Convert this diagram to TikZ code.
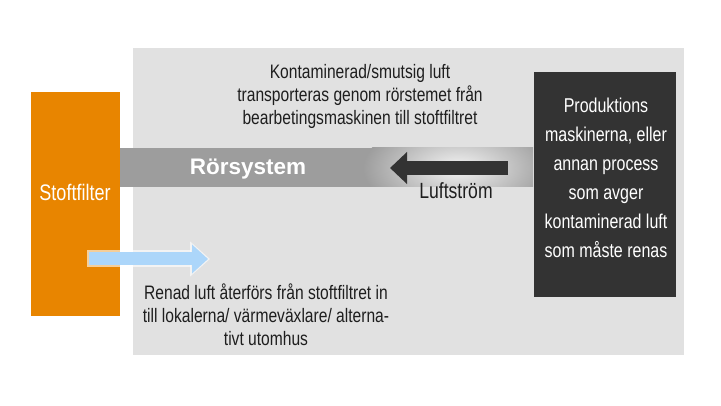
\documentclass[tikz,border=0pt]{standalone}
\usepackage{fontspec}
\setmainfont{Liberation Sans}[FakeStretch=0.8]
\newfontfamily\pipefont{Liberation Sans}
\usetikzlibrary{arrows.meta}
\definecolor{backgray}{RGB}{225,225,225}
\definecolor{filterorange}{RGB}{232,133,0}
\definecolor{pipegray}{RGB}{157,157,157}
\definecolor{sourcedark}{RGB}{51,51,51}
\definecolor{cleanblue}{RGB}{172,214,250}
\definecolor{textdark}{RGB}{30,30,30}
\tikzset{
	note/.style={align=center, text=textdark, font=\fontsize{19.5}{23}\selectfont},
	whitetext/.style={align=center, text=white},
}

\begin{document}
\begin{tikzpicture}[x=1pt, y=-1pt]
		%%%%% START %%%%%
		\useasboundingbox (0, 0) rectangle (721, 406);
		\fill[white] (0, 0) rectangle (721, 406);
		
		\fill[backgray] (133, 48) rectangle (684, 355);
		
		% pipe with the glow round the flow arrow
		\fill[pipegray] (120, 148) rectangle (533, 187);
		\begin{scope}
			\clip (120, 148) rectangle (533, 187);
			\shade[inner color=white!88!pipegray, outer color=pipegray] (458, 168) ellipse (95 and 48);
		\end{scope}
		
		\fill[filterorange] (31, 92) rectangle (120, 316);
		\fill[sourcedark] (534, 72) rectangle (676, 297);
		
		\node[whitetext, font=\fontsize{22.5}{26}\selectfont] (filter) at (75, 192) {Stoftfilter};
		\node[text=white, font=\pipefont\bfseries\fontsize{22.5}{26}\selectfont] (pipe) at (248, 169) {Rörsystem};
		\node[whitetext, font=\fontsize{20}{29}\selectfont] (source) at (606, 178) {Produktions\\maskinerna, eller\\annan process\\som avger\\kontaminerad luft\\som måste renas};
		
		\node[note] (topnote) at (360, 96) {Kontaminerad/smutsig luft\\transporteras genom rörstemet från\\bearbetingsmaskinen till stoftfiltret};
		\node[note] (bottomnote) at (266, 315) {Renad luft återförs från stoftfiltret in\\till lokalerna/ värmeväxlare/ alterna-\\tivt utomhus};
		\node[text=textdark, font=\fontsize{22}{26}\selectfont] (flowlabel) at (456, 191) {Luftström};
		
		% flow arrows
		\coordinate (flow start) at (508, 168);
		\coordinate (flow end) at (390, 168);
		\draw[line width=14pt, sourcedark, -{Triangle[length=17pt, width=31pt]}] (flow start) -- (flow end);
		
		\coordinate (clean start) at (89, 259);
		\coordinate (clean end) at (208, 259);
		\draw[line width=17pt, white, opacity=0.6, -{Triangle[length=20pt, width=34pt]}] ([xshift=-2pt]clean start) -- ([xshift=2pt]clean end);
		\draw[line width=13pt, cleanblue, -{Triangle[length=16pt, width=28pt]}] (clean start) -- (clean end);
		%%%%% END %%%%%
	\end{tikzpicture}
\end{document}
